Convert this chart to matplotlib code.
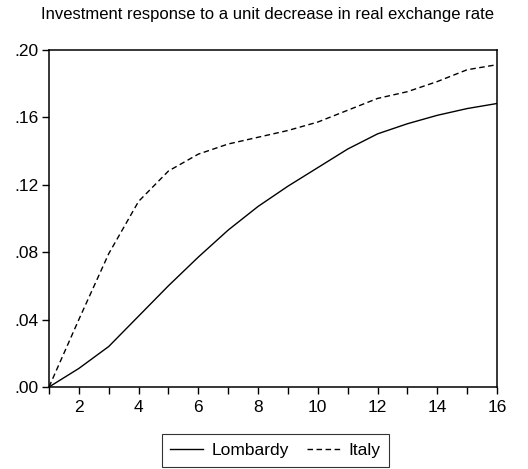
import matplotlib.pyplot as plt
import numpy as np

plt.rcParams['font.family'] = ['Liberation Sans', 'DejaVu Sans']

# impulse response horizon
periods = list(range(1, 17))

lombardy = [0.000, 0.011, 0.024, 0.042, 0.060, 0.077, 0.093, 0.107,
            0.119, 0.130, 0.141, 0.150, 0.156, 0.161, 0.165, 0.168]
italy = [0.000, 0.040, 0.079, 0.110, 0.128, 0.138, 0.144, 0.148,
         0.152, 0.157, 0.164, 0.171, 0.175, 0.181, 0.188, 0.191]

ytick_vals = [0.00, 0.04, 0.08, 0.12, 0.16, 0.20]
ytick_labels = ['.00', '.04', '.08', '.12', '.16', '.20']

fig = plt.figure(figsize=(5.28, 4.69), dpi=100)
ax = fig.add_axes([49 / 528, 1 - 387 / 469, 448 / 528, 337.5 / 469])

ax.plot(periods, lombardy, color='black', lw=1.0, label='Lombardy')
ax.plot(periods, italy, color='black', lw=1.0, dashes=(4, 2.5), label='Italy')

ax.set_xlim(1, 16)
ax.set_ylim(0, 0.20)
ax.set_xticks(range(1, 17))
ax.set_xticklabels([str(p) if p % 2 == 0 else '' for p in periods])
ax.set_yticks(ytick_vals)
ax.set_yticklabels(ytick_labels)
ax.tick_params(direction='out', length=5, width=1, labelsize=12.5, colors='black')
ax.tick_params(axis='x', pad=4)
ax.tick_params(axis='y', pad=2.5)
for s in ax.spines.values():
    s.set_linewidth(1.1)

# title sits a bit left of the axes centre
fig.text(0.507, 0.969, 'Investment response to a unit decrease in real exchange rate',
         fontsize=12, ha='center', va='center')

leg = ax.legend(loc='upper center', bbox_to_anchor=(0.505, -0.14), ncol=2,
                frameon=True, fancybox=False, edgecolor='black', fontsize=12.5,
                handlelength=1.9, handletextpad=0.5, columnspacing=1.0,
                borderpad=0.5, borderaxespad=0)
leg.get_frame().set_linewidth(0.8)

fig.savefig('out.png', dpi=100)
